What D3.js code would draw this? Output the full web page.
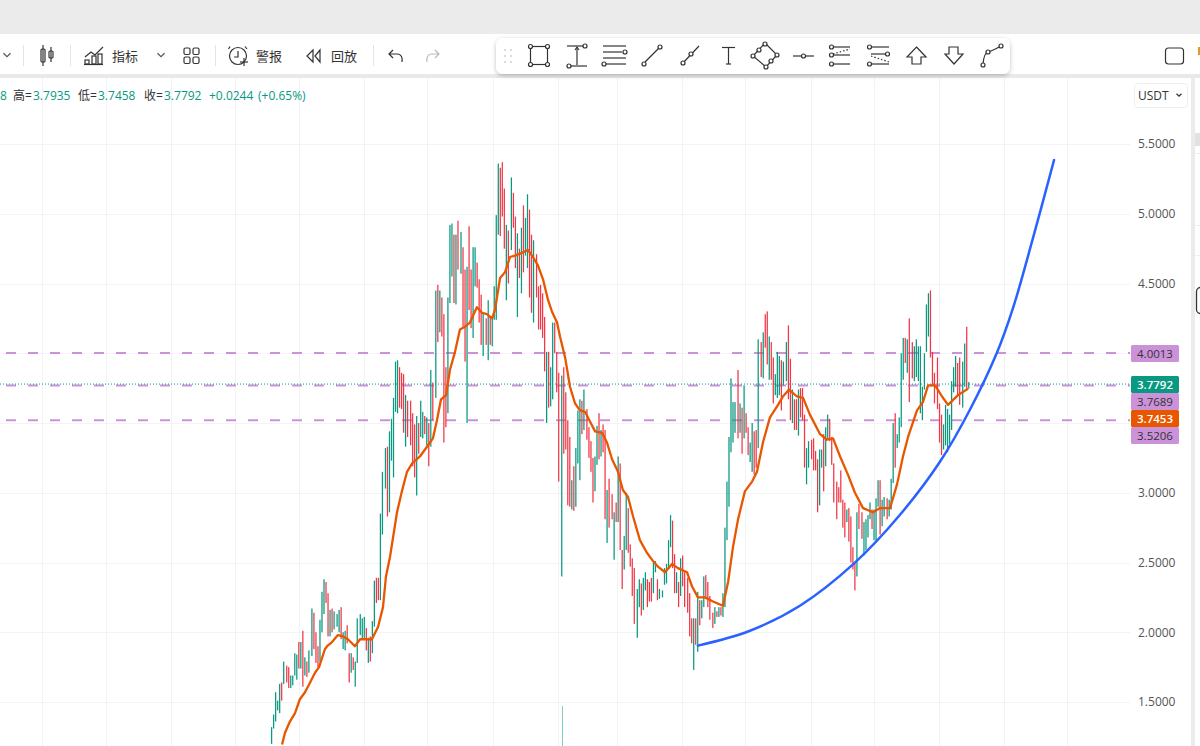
<!DOCTYPE html>
<html>
<head>
<meta charset="utf-8">
<script src="https://cdn.jsdelivr.net/npm/d3@7"></script>
<style>
  html, body { margin: 0; padding: 0; background: #fff; overflow: hidden; }
  svg { display: block; }
  text { font-family: "Open Sans", "Noto Sans CJK SC", sans-serif; }
</style>
</head>
<body>
<div id="chart"></div>
<script>
// candle lows / highs, oldest first
var lows = [
  1.20,1.31,1.36,1.44,1.42,1.51,1.63,1.64,1.60,1.60,
  1.62,1.69,1.66,1.74,1.74,1.61,1.69,1.68,1.71,1.83,
  1.88,1.78,1.75,1.79,2.00,2.13,2.21,1.97,1.97,2.00,
  2.02,2.04,2.00,1.95,1.88,1.87,1.92,1.64,1.71,1.73,
  1.61,1.78,1.98,1.95,1.96,1.87,1.78,1.79,1.85,2.04,
  2.21,2.23,2.23,2.70,3.03,2.83,2.86,3.23,3.11,3.58,
  3.57,3.61,3.60,3.43,3.33,3.40,3.34,3.19,3.11,2.98,
  3.28,3.40,3.39,3.42,3.34,3.19,3.33,3.52,3.68,4.08,
  4.15,4.12,3.36,3.47,3.57,4.36,4.55,4.36,4.35,4.60,
  4.57,4.19,3.94,3.50,4.31,4.18,4.11,4.48,4.47,4.22,
  4.06,3.98,4.06,3.95,4.06,4.05,4.24,4.24,4.85,4.84,
  4.98,4.75,4.38,4.50,4.74,4.90,4.61,4.26,4.54,4.43,
  4.58,4.70,4.61,4.40,4.29,4.22,4.40,4.17,4.17,4.11,
  3.87,3.50,3.61,3.62,3.67,4.00,3.72,3.08,2.40,3.28,
  3.31,2.91,2.90,2.88,2.87,2.90,3.21,3.09,3.42,3.45,
  3.38,3.25,3.15,2.93,3.01,3.20,3.24,3.26,3.29,2.81,
  2.64,2.75,2.81,2.52,2.79,2.79,2.59,2.31,2.45,2.59,
  2.57,2.47,2.26,2.06,1.96,2.18,2.12,2.16,2.30,2.18,
  2.22,2.22,2.28,2.43,2.23,2.24,2.25,2.34,2.35,2.45,
  2.61,2.46,2.28,2.28,2.18,2.26,2.33,2.18,2.14,1.97,
  1.92,1.73,1.91,1.86,2.05,2.10,2.18,2.25,2.18,2.09,
  2.03,2.06,2.11,2.11,2.12,2.11,2.18,2.66,2.90,3.29,
  3.36,3.43,3.39,3.43,3.28,3.39,3.43,3.27,3.22,3.15,
  3.13,3.18,3.32,3.83,3.82,4.04,3.92,3.81,3.81,3.64,
  3.70,3.68,3.70,3.59,3.77,3.80,3.67,3.52,3.50,3.45,
  3.45,3.41,3.54,3.52,3.18,3.06,3.18,3.24,3.16,3.16,
  2.86,2.91,3.18,3.01,3.19,3.38,3.37,3.20,2.93,2.81,
  2.93,2.93,2.75,2.68,2.79,2.65,2.50,2.45,2.30,2.40,
  2.74,2.67,2.55,2.59,2.68,2.81,2.74,2.66,2.65,2.90,
  2.70,2.76,2.83,2.81,2.83,2.88,3.07,3.18,3.32,3.36,
  3.47,3.81,3.93,3.86,3.65,3.82,3.80,3.83,3.80,3.57,
  3.52,3.74,4.01,4.12,3.97,3.77,3.64,3.60,3.36,3.27,
  3.31,3.34,3.29,3.35,3.45,3.72,3.76,3.70,3.63,3.61,
  3.76,3.74,3.7458
];
var highs = [
  1.32,1.41,1.57,1.51,1.63,1.64,1.79,1.76,1.75,1.69,
  1.69,1.85,1.84,1.93,1.93,2.01,1.82,1.79,1.87,2.17,
  2.14,2.00,1.90,2.09,2.29,2.38,2.36,2.28,2.16,2.17,
  2.15,2.13,2.16,2.18,2.00,2.01,2.05,1.85,1.85,1.82,
  1.79,2.10,2.13,2.10,2.11,2.03,1.96,1.97,2.08,2.37,
  2.39,2.39,2.85,3.15,3.32,3.33,3.44,3.53,3.68,3.94,
  3.95,3.90,3.86,3.85,3.70,3.66,3.66,3.57,3.49,3.55,
  3.50,3.66,3.58,3.55,3.54,3.50,3.88,3.79,4.45,4.49,
  4.45,4.40,4.28,3.90,4.40,4.92,4.93,4.85,4.85,4.95,
  4.87,4.76,4.60,4.62,4.91,4.60,4.76,4.76,4.65,4.53,
  4.42,4.28,4.25,4.38,4.26,4.25,4.48,4.99,5.36,5.33,
  5.37,5.18,4.92,4.88,5.26,5.15,4.98,4.86,4.75,4.90,
  5.06,4.97,5.14,5.03,4.85,4.81,4.71,4.48,4.49,4.43,
  4.26,4.01,4.01,3.90,4.22,4.22,4.01,3.86,3.84,3.90,
  3.72,3.52,3.40,3.09,3.19,3.32,3.59,3.67,3.66,3.74,
  3.60,3.47,3.37,3.25,3.26,3.48,3.57,3.45,3.49,3.45,
  3.02,3.10,2.99,2.86,2.93,3.26,3.21,2.59,2.69,3.00,
  2.89,2.63,2.53,2.46,2.31,2.38,2.35,2.39,2.43,2.38,
  2.36,2.39,2.50,2.51,2.38,2.31,2.30,2.46,2.49,2.66,
  2.84,2.80,2.56,2.43,2.36,2.53,2.55,2.43,2.39,2.28,
  2.10,2.10,2.10,2.29,2.23,2.23,2.40,2.41,2.36,2.26,
  2.14,2.18,2.15,2.18,2.18,2.28,2.75,3.08,3.40,3.82,
  3.65,3.65,3.88,3.64,3.61,3.77,3.57,3.47,3.36,3.50,
  3.44,3.45,4.10,4.08,4.15,4.28,4.30,4.12,4.08,3.97,
  3.85,4.01,3.98,3.95,3.94,4.08,4.20,3.96,3.74,3.67,
  3.67,3.74,3.75,3.75,3.56,3.32,3.37,3.38,3.39,3.30,
  3.24,3.31,3.31,3.42,3.47,3.56,3.53,3.40,3.21,3.08,
  3.04,3.16,2.95,2.93,2.88,2.89,2.83,2.61,2.50,2.86,
  2.92,2.86,2.79,2.81,2.84,2.93,2.88,2.88,2.96,3.09,
  3.09,2.95,2.97,2.96,2.95,3.10,3.50,3.57,3.42,3.54,
  4.00,4.11,4.11,4.10,4.25,4.08,4.05,4.10,4.05,4.05,
  3.76,4.00,4.35,4.43,4.45,4.01,3.86,3.97,3.64,3.56,
  3.49,3.63,3.60,3.56,3.80,3.90,3.98,3.93,3.97,3.94,
  4.07,4.19,3.7935
];
// g = closed up, r = closed down
var dirs = ("gggggrgrrg" + "gggrgrgrgg" + "rrrgggrrgr" + "gggrggrrgr" + "gggggrgrgg" +
  "rrgggrgggg" + "grrrgrrrrg" + "rggrgrgrgr" + "grrrgggrgr" + "grrgrrggrr" +
  "rgrgrggggr" + "rrgrgrrgrg" + "rggrrgrrrr" + "rgrggrrrgr" + "rrrgrgggrg" +
  "rrrrggrgrr" + "grrgrgrrgg" + "rrrrggrggr" + "rrggrggggg" + "grrgrgrrrr" +
  "rgrgrggrrr" + "rgrgrggggg" + "ggrgrgrrgg" + "rrgrgrrgrr" + "gggrggrrgr" +
  "rgrrrggrrr" + "rggrggrrrr" + "rrrrgrrrrg" + "rrggggrggg" + "rggrgggrgg" +
  "ggrgrrgggg" + "ggggrrrrrr" + "gggggggrrg" + "grg").split("");

// moving average, sampled along the time axis
var maTime = [5.2,6.6,8.9,11.3,13.6,16,18.4,20.7,22.6,25.4,26.4,28.7,31.5,33.9,36.2,39.5,41.9,45.2,47.5,50.4,
  52.7,54.1,56,59.3,61.6,64,66.4,70.1,73.4,76.2,78.1,80,82.4,84.2,86.6,88.9,91.3,93.6,96.9,99.3,
  101.6,104,105.4,107.8,110.1,112.5,114.8,118.1,120.9,123.3,125.6,128,130.4,132.2,134.6,136,138.4,140.7,143.1,145.4,
  147.8,150.1,152.5,155.8,158.1,160.5,163.3,165.6,168,170.4,173.6,176.9,179.8,182.1,185.4,188.7,191.5,195.8,198.1,200.9,
  204.2,208,212.7,215.1,217.4,219.8,223,226.4,228.7,231.5,234.8,238.6,240.9,243.8,247.5,250.4,253.6,258.4,261.6,264.5,
  267.8,271.5,274.8,278.6,283.3,286.6,291.3,294.6,297.4,299.8,304,306.8,309.2,312.5,315.8,318.6,323.3,328];
var maPrice = [1.195,1.28,1.36,1.42,1.52,1.57,1.64,1.71,1.75,1.88,1.90,1.93,1.98,1.97,1.95,1.90,1.95,1.95,1.95,2.04,
  2.18,2.40,2.54,2.86,3.01,3.15,3.21,3.26,3.33,3.39,3.52,3.67,3.70,3.88,4.01,4.17,4.19,4.22,4.33,4.29,
  4.28,4.25,4.31,4.54,4.58,4.69,4.70,4.72,4.74,4.69,4.63,4.53,4.38,4.30,4.22,4.12,3.97,3.76,3.64,3.59,
  3.58,3.51,3.44,3.43,3.36,3.24,3.15,3.02,2.97,2.83,2.66,2.57,2.51,2.47,2.43,2.49,2.46,2.43,2.33,2.25,
  2.25,2.22,2.19,2.36,2.61,2.81,3.01,3.08,3.15,3.36,3.54,3.63,3.69,3.74,3.69,3.68,3.56,3.42,3.38,3.39,
  3.26,3.13,3.00,2.89,2.86,2.89,2.89,3.06,3.26,3.40,3.59,3.65,3.77,3.77,3.69,3.63,3.70,3.7453];

// hand drawn blue arc
var arcTime = [200.9,225.4,248.9,274.8,296,314.8,328.9,341.6,349.2,358.6,368.5];
var arcPrice = [1.904,2.011,2.19,2.499,2.842,3.222,3.595,4.003,4.325,4.827,5.385];

var priceTicks = [5.5, 5, 4.5, 4, 3.5, 3, 2.5, 2, 1.5];
var hiddenTicks = [4, 3.5]; // sit under the price tags
var dashedLevels = [4.0013, 3.7689, 3.5206];
var lastClose = 3.7792;
var tagValues = ["4.0013", "3.7792", "3.7689", "3.7453", "3.5206"];
var tagKinds = ["line", "close", "line", "ma", "line"];
// time axis grid
var timeGrid = [-107.8,-77.6,-47.1,-16.9,13.2,43.8,73.4,104.5,135.1,162.8,193.4,223.1,254.1,283.8,314.4,345,374.6];

var GREEN = "#089981", RED = "#f23645", PURPLE = "#cb92d9", ORANGE = "#e85600", BLUE = "#2962ff";
var W = 1200, H = 746, INK = "#333";

var svg = d3.select("#chart").append("svg").attr("width", W).attr("height", H);

// scales
var y = d3.scaleLinear().domain([5.5, 1.5]).range([144, 702]);
var xBar = d3.scaleLinear().domain([0, lows.length - 1]).range([271, 968]);
var xLine = d3.scaleLinear().domain([0, 328]).range([271, 968]);

// chart background
svg.append("rect").attr("width", W).attr("height", H).attr("fill", "#fff");

// grid
svg.append("g").selectAll("line").data(timeGrid).enter().append("line")
  .attr("x1", d => Math.round(xLine(d)) + 0.5).attr("x2", d => Math.round(xLine(d)) + 0.5)
  .attr("y1", 78).attr("y2", H)
  .attr("stroke", "#f2f3f5");

var axis = d3.axisRight(y)
  .tickValues(priceTicks.filter(d => hiddenTicks.indexOf(d) < 0))
  .tickSize(0).tickPadding(0).tickFormat(d3.format(".4f"));
svg.append("g").selectAll("line").data(priceTicks).enter().append("line")
  .attr("x1", 0).attr("x2", 1130)
  .attr("y1", d => Math.round(y(d)) + 0.5).attr("y2", d => Math.round(y(d)) + 0.5)
  .attr("stroke", "#f2f3f5");
var axisG = svg.append("g").attr("transform", "translate(1138,0)").call(axis);
axisG.select(".domain").remove();
axisG.selectAll("text").attr("font-size", 12).attr("fill", "#555")
  .style("font-family", "'Open Sans', sans-serif");

// horizontal levels
svg.append("g").selectAll("line").data(dashedLevels).enter().append("line")
  .attr("x1", 6).attr("x2", 1130)
  .attr("y1", d => y(d)).attr("y2", d => y(d))
  .attr("stroke", PURPLE).attr("stroke-width", 2).attr("stroke-dasharray", "10,12");

// candles. the screenshot was scaled a touch, which is what blurs some groups of bars
var scaleK = 1.0074;
svg.append("g").selectAll("rect").data(lows).enter().append("rect")
  .attr("x", (d, i) => Math.round(xBar(i) / 1.0075) * scaleK)
  .attr("width", 1.25)
  .attr("y", (d, i) => y(highs[i]))
  .attr("height", (d, i) => y(d) - y(highs[i]))
  .attr("fill", (d, i) => dirs[i] == "g" ? GREEN : RED);

// stray wick below the long green candle
svg.append("rect")
  .attr("x", 562).attr("width", 1)
  .attr("y", y(1.47)).attr("height", H - y(1.47))
  .attr("fill", "#7ccfc0");

// last price
svg.append("line")
  .attr("x1", 0).attr("x2", 1130)
  .attr("y1", y(lastClose)).attr("y2", y(lastClose))
  .attr("stroke", GREEN).attr("stroke-width", 1).attr("stroke-dasharray", "1,2");

// moving average
var maLine = d3.line().x((d, i) => xLine(maTime[i])).y(d => y(d));
svg.append("path").attr("d", maLine(maPrice))
  .attr("fill", "none").attr("stroke", ORANGE).attr("stroke-width", 2.3).attr("stroke-linejoin", "round");

// arc
var arcLine = d3.line().x((d, i) => xLine(arcTime[i])).y(d => y(d)).curve(d3.curveCatmullRom);
svg.append("path").attr("d", arcLine(arcPrice))
  .attr("fill", "none").attr("stroke", BLUE).attr("stroke-width", 2.5).attr("stroke-linecap", "round");

// price tags
var tagFill = { line: PURPLE, close: GREEN, ma: ORANGE };
var tagText = { line: "#333", close: "#fff", ma: "#fff" };
var tagTops = [345, 376, 393, 410, 427];
var tags = svg.append("g").selectAll("g").data(tagValues).enter().append("g")
  .attr("transform", (d, i) => "translate(1131," + tagTops[i] + ")");
tags.append("rect").attr("width", 48).attr("height", 17).attr("rx", 1.5)
  .attr("fill", (d, i) => tagFill[tagKinds[i]]);
tags.append("text").attr("x", 24).attr("y", 13).attr("text-anchor", "middle")
  .attr("font-size", 11.5).attr("font-weight", (d, i) => tagKinds[i] == "line" ? 400 : 600)
  .attr("fill", (d, i) => tagText[tagKinds[i]]).text(d => d);

// legend line
var legend = [["8", 0, GREEN], ["高=", 13, "#333"], ["3.7935", 33, GREEN], ["低=", 78, "#333"], ["3.7458", 98, GREEN],
  ["收=", 144, "#333"], ["3.7792", 164, GREEN], ["+0.0244", 209, GREEN], ["(+0.65%)", 258, GREEN]];
svg.append("g").selectAll("text").data(legend).enter().append("text")
  .attr("x", d => d[1]).attr("y", 100).attr("font-size", 12)
  .attr("fill", d => d[2]).text(d => d[0]);

// USDT box
svg.append("rect").attr("x", 1134.5).attr("y", 83.5).attr("width", 53).attr("height", 24).attr("rx", 3)
  .attr("fill", "#fff").attr("stroke", "#eeeeee");
svg.append("text").attr("x", 1138).attr("y", 99.5).attr("font-size", 12).attr("fill", "#333").text("USDT");
chevron(1179, 95, 2.5, "#333");

// right hand panel
svg.append("rect").attr("x", 1191).attr("y", 78).attr("width", 4).attr("height", H - 78).attr("fill", "#ebebeb");
svg.append("rect").attr("x", 1195).attr("y", 133).attr("width", 5).attr("height", 13).attr("fill", "#e2e2e2");
[153, 225, 255].forEach(function (v) {
  svg.append("line").attr("x1", 1195).attr("x2", 1200).attr("y1", v + 0.5).attr("y2", v + 0.5).attr("stroke", "#f0f0f0");
});
svg.append("rect").attr("x", 1196.5).attr("y", 287.5).attr("width", 12).attr("height", 26).attr("rx", 4)
  .attr("fill", "#fff").attr("stroke", INK).attr("stroke-width", 1.3);

// top bars
svg.append("rect").attr("width", W).attr("height", 34).attr("fill", "#ebebeb");
svg.append("rect").attr("y", 34).attr("width", W).attr("height", 40).attr("fill", "#fff");
svg.append("rect").attr("y", 74).attr("width", W).attr("height", 4).attr("fill", "#e9e9e9");

[23, 70, 215, 373].forEach(function (v) {
  svg.append("line").attr("x1", v + 0.5).attr("x2", v + 0.5).attr("y1", 45).attr("y2", 66).attr("stroke", "#e4e4e4");
});

var defs = svg.append("defs");
var shadow = defs.append("filter").attr("id", "barShadow").attr("x", "-5%").attr("y", "-20%").attr("width", "110%").attr("height", "150%");
shadow.append("feDropShadow").attr("dx", 0).attr("dy", 1.5).attr("stdDeviation", 2).attr("flood-color", "#000").attr("flood-opacity", 0.25);
svg.append("rect").attr("x", 496).attr("y", 38).attr("width", 514).attr("height", 36).attr("rx", 7)
  .attr("fill", "#fff").attr("filter", "url(#barShadow)");

// small drawing helpers for the toolbar icons
var tb = svg.append("g").attr("fill", "none").attr("stroke", INK).attr("stroke-width", 1.2);
function seg(a, b, c, d, col) { tb.append("line").attr("x1", a).attr("y1", b).attr("x2", c).attr("y2", d).attr("stroke", col || INK); }
function dot(a, b, r) { tb.append("circle").attr("cx", a).attr("cy", b).attr("r", r || 2).attr("fill", "#fff"); }
function box(a, b, w, h, r) { tb.append("rect").attr("x", a).attr("y", b).attr("width", w).attr("height", h).attr("rx", r || 0); }
function pth(s, col) { tb.append("path").attr("d", s).attr("stroke", col || INK); }
function chevron(a, b, r, col) {
  svg.append("path").attr("d", "M" + (a - r) + "," + (b - r / 2) + "L" + a + "," + (b + r / 2) + "L" + (a + r) + "," + (b - r / 2))
    .attr("fill", "none").attr("stroke", col).attr("stroke-width", 1.2);
}
function label(s, a) {
  svg.append("text").attr("x", a).attr("y", 61).attr("font-size", 13).attr("fill", INK).text(s);
}

// left toolbar
chevron(7, 55, 3.5, "#555");
seg(43, 45, 43, 66); box(41, 49, 4, 13, 1);
seg(51, 47, 51, 62); box(49, 51, 4, 7, 1);
pth("M85,57L91,52L95,55L103,47");
box(85, 60, 4, 4); box(92, 56, 4, 8); box(98, 54, 4, 10);
seg(84, 64.5, 103, 64.5);
label("指标", 112);
chevron(161, 55, 3.5, "#555");
box(184, 48, 6, 6.5, 1.5); box(193, 48, 6, 6.5, 1.5); box(184, 57, 6, 6.5, 1.5); box(193, 57, 6, 6.5, 1.5);
tb.append("circle").attr("cx", 238).attr("cy", 56).attr("r", 8.5);
pth("M238,51V57H234");
pth("M230,46.5L228.5,49M245,46.5L247,49");
seg(244, 58, 244, 66); seg(240, 62, 248, 62);
label("警报", 256);
pth("M313,50L307,56L313,62Z"); pth("M320,50L315,56L320,62Z");
label("回放", 331);
pth("M393,50L389,54L393,58M389,54H398Q403,55 402,62");
pth("M435,50L439,54L435,58M439,54H431Q426,55 427,62", "#bbb");

// floating toolbar
[505, 511].forEach(function (a) {
  [50, 56, 62].forEach(function (b) {
    svg.append("circle").attr("cx", a).attr("cy", b).attr("r", 1).attr("fill", "#d0d0d0");
  });
});
box(530.5, 46.5, 17, 18); dot(530.5, 46.5); dot(547.5, 46.5); dot(530.5, 64.5); dot(547.5, 64.5);
seg(567, 46, 584, 46); dot(585, 46); seg(577, 48, 577, 65); pth("M575,50L577,47L579,50"); seg(570, 66, 587, 66); dot(569, 66);
seg(603, 46, 626, 46); seg(603, 52, 622, 52); dot(625, 52); seg(603, 58, 626, 58); seg(606, 64, 626, 64); dot(604, 64);
seg(645, 62, 659, 48); dot(644, 64); dot(660, 47);
seg(682, 64, 699, 46); dot(683, 63); dot(691, 54);
seg(722, 47.5, 735, 47.5); seg(728.5, 47.5, 728.5, 64); seg(726, 64, 731, 64);
pth("M765,43L777,55L766,67L753,56Z"); dot(765, 44); dot(777, 55); dot(766, 67); dot(753, 56); dot(759, 50); dot(771, 61);
seg(793, 56, 814, 56); dot(803.5, 56);
seg(833, 47, 850, 47); dot(831.5, 47); seg(833, 55, 850, 55); dot(831.5, 55); seg(833, 64, 850, 64); dot(831.5, 64);
tb.append("line").attr("x1", 833).attr("y1", 54).attr("x2", 850).attr("y2", 49).attr("stroke-dasharray", "1.5,2");
seg(871, 47, 889, 47); dot(869.5, 47); seg(871, 54, 886, 54); dot(887.5, 54); seg(871, 64, 889, 64); dot(869.5, 64);
tb.append("line").attr("x1", 871).attr("y1", 56).attr("x2", 889).attr("y2", 62).attr("stroke-dasharray", "1.5,2");
pth("M916.5,47L926,57H921V64H912V57H907Z");
pth("M954,64L963,54H958V47H949V54H945Z");
pth("M983,64Q984,53 988,52T1001,46"); dot(983, 65); dot(988, 52); dot(1001, 46);
box(1165.5, 48, 18, 16, 3);

// sliver of the next panel
svg.append("rect").attr("x", 1198).attr("y", 47).attr("width", 2).attr("height", 8).attr("fill", "#e09a2b");
</script>
</body>
</html>
